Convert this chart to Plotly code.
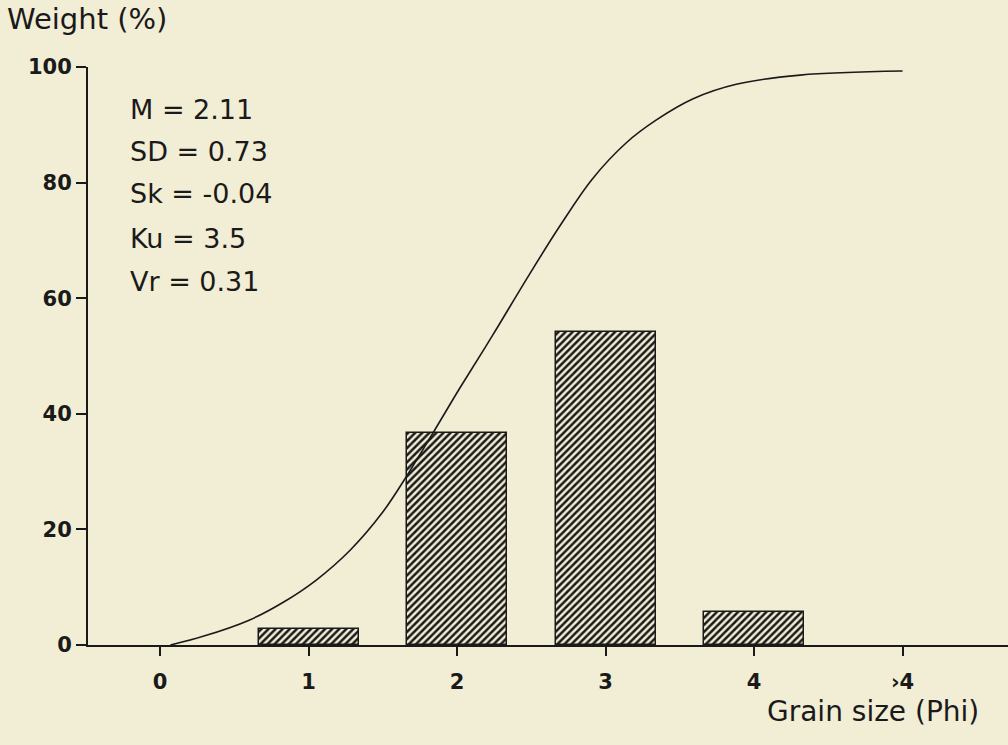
import plotly.graph_objects as go

# ---- data ----
tick_vals = [0, 1, 2, 3, 4, 5]
tick_text = ["0", "1", "2", "3", "4", "›4"]

bar_x = [1, 2, 3, 4]
bar_weight = [2.8, 36.7, 54.2, 5.7]

curve_x = [0.07, 0.29, 0.6, 0.83, 1.05, 1.28, 1.50, 1.67, 1.85, 2.02, 2.24, 2.47, 2.69, 2.91, 3.14, 3.34, 3.59, 3.88, 4.31, 5.0]
curve_y = [0.0, 1.5, 4.3, 7.4, 11.2, 16.4, 23.0, 29.6, 37.2, 44.5, 53.6, 63.4, 72.4, 80.6, 86.9, 90.8, 94.5, 97.0, 98.6, 99.3]

stats = ["M = 2.11", "SD = 0.73", "Sk = -0.04", "Ku = 3.5", "Vr = 0.31"]
stats_y = [92.6, 85.3, 78.1, 70.3, 62.9]

bg = "#F2EDD5"
ink = "#1a1a1a"

fig = go.Figure()
fig.add_trace(go.Bar(
    x=bar_x, y=bar_weight, width=0.673,
    marker=dict(color=bg, line=dict(color=ink, width=1.5),
                pattern=dict(shape="/", size=5, solidity=0.5,
                             fgcolor=ink, bgcolor=bg, fillmode="replace")),
    hoverinfo="skip", showlegend=False,
))
fig.add_trace(go.Scatter(
    x=curve_x, y=curve_y, mode="lines",
    line=dict(color=ink, width=1.6, shape="spline", smoothing=1.0),
    showlegend=False, hoverinfo="skip",
))

for s, yv in zip(stats, stats_y):
    fig.add_annotation(text=s, x=(128 - 88) / 920, xref="paper", y=yv, yref="y",
                       xanchor="left", yanchor="middle", showarrow=False,
                       font=dict(family="DejaVu Sans", size=27, color=ink))

fig.add_annotation(text="Weight (%)", x=(5 - 88) / 920, xref="paper",
                   y=(645 - 19) / 578, yref="paper", xanchor="left", yanchor="middle",
                   showarrow=False, font=dict(family="DejaVu Sans", size=29, color=ink))
fig.add_annotation(text="Grain size (Phi)", x=(981 - 88) / 920, xref="paper",
                   y=(645 - 711) / 578, yref="paper", xanchor="right", yanchor="middle",
                   showarrow=False, font=dict(family="DejaVu Sans", size=28, color=ink))

fig.update_layout(
    width=1008, height=745,
    margin=dict(l=88, r=0, t=67, b=100),
    paper_bgcolor=bg, plot_bgcolor=bg,
    bargap=0,
    xaxis=dict(range=[-0.485, 5.71], tickvals=tick_vals, ticktext=tick_text,
               showgrid=False, zeroline=False, showline=True, linecolor=ink, linewidth=2,
               ticks="outside", ticklen=9, tickwidth=1.5, tickcolor=ink,
               ticklabelstandoff=8,
               tickfont=dict(family="DejaVu Sans", size=21, color=ink, weight="bold")),
    yaxis=dict(range=[0, 100], tickvals=[0, 20, 40, 60, 80, 100],
               showgrid=False, zeroline=False, showline=True, linecolor=ink, linewidth=2,
               ticks="outside", ticklen=10, tickwidth=1.5, tickcolor=ink,
               ticklabelstandoff=0,
               tickfont=dict(family="DejaVu Sans", size=21, color=ink, weight="bold")),
)

fig.write_html("out.html", config={"displayModeBar": False},
               post_script="document.body.style.margin='0px';document.body.style.background='%s';" % bg)
